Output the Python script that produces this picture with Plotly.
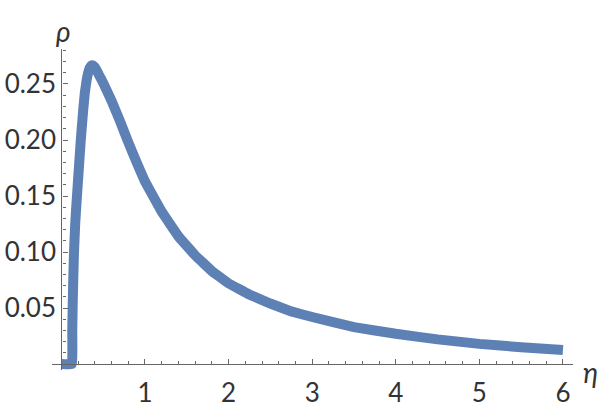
import plotly.graph_objects as go

# data
eta = [0.0, 0.127, 0.13, 0.135, 0.14, 0.15, 0.165, 0.18, 0.20, 0.23, 0.26, 0.28, 0.30, 0.32, 0.34,
       0.36, 0.38, 0.40, 0.42, 0.45, 0.50, 0.60, 0.70, 0.80, 0.90, 1.00, 1.20, 1.40, 1.60, 1.80, 2.00,
       2.25, 2.50, 2.75, 3.00, 3.50, 4.00, 4.50, 5.00, 5.50, 6.00]
rho = [0.0, 0.0, 0.03, 0.052, 0.07, 0.098, 0.125, 0.143, 0.165, 0.198, 0.226, 0.242, 0.2525, 0.2600, 0.2645,
       0.2665, 0.2665, 0.2650, 0.2625, 0.258, 0.251, 0.235, 0.217, 0.198, 0.180, 0.163, 0.136, 0.114, 0.097,
       0.083, 0.072, 0.062, 0.054, 0.047, 0.042, 0.033, 0.027, 0.022, 0.018, 0.015, 0.0125]

x_ticks = [1, 2, 3, 4, 5, 6]
x_labels = ["1", "2", "3", "4", "5", "6"]
y_ticks = [0.05, 0.10, 0.15, 0.20, 0.25]
y_labels = ["0.05", "0.10", "0.15", "0.20", "0.25"]

W, H = 600, 412
x_range = [-0.11, 6.12]
y_range = [-0.0055, 0.2815]
# pixel geometry
px_left, px_right = 52.2, 573.0
py_top, py_bottom = 48.7, 370.2

x_dom = [px_left / W, px_right / W]
y_dom = [(H - py_bottom) / H, (H - py_top) / H]
x0_px = px_left + (0 - x_range[0]) / (x_range[1] - x_range[0]) * (px_right - px_left)
y0_px = py_bottom - (0 - y_range[0]) / (y_range[1] - y_range[0]) * (py_bottom - py_top)

axis_color = "#666666"
font_family = "Lato, 'Noto Sans', sans-serif"

fig = go.Figure()
fig.add_trace(go.Scatter(
    x=eta, y=rho, mode="lines",
    line=dict(color="#5E81B5", width=10, shape="spline", smoothing=0.15),
    hoverinfo="skip", cliponaxis=False,
))

fig.update_layout(
    width=W, height=H,
    margin=dict(l=0, r=0, t=0, b=0),
    paper_bgcolor="white", plot_bgcolor="white",
    showlegend=False,
    font=dict(family=font_family, size=26, color="#333333"),
    xaxis=dict(
        domain=x_dom, range=x_range, anchor="free", position=(H - y0_px) / H,
        showgrid=False, zeroline=False, showline=True, linecolor=axis_color, linewidth=1.3,
        tickmode="array", tickvals=x_ticks, ticktext=x_labels,
        ticks="inside", ticklen=5, tickcolor=axis_color, tickwidth=1,
        tickfont=dict(size=26, color="#333333"), ticklabelstandoff=6,
        minor=dict(tickmode="linear", tick0=0, dtick=0.2, ticks="inside", ticklen=3,
                   tickcolor=axis_color, tickwidth=1, showgrid=False),
    ),
    yaxis=dict(
        domain=y_dom, range=y_range, anchor="free", position=x0_px / W,
        showgrid=False, zeroline=False, showline=True, linecolor=axis_color, linewidth=1.3,
        tickmode="array", tickvals=y_ticks, ticktext=y_labels,
        ticks="inside", ticklen=5, tickcolor=axis_color, tickwidth=1,
        tickfont=dict(size=26, color="#333333"), ticklabelstandoff=0,
        minor=dict(tickmode="linear", tick0=0, dtick=0.01, ticks="inside", ticklen=3,
                   tickcolor=axis_color, tickwidth=1, showgrid=False),
    ),
    annotations=[
        dict(text="<i>ρ</i>", xref="paper", yref="paper", x=63 / W, y=(H - 31) / H,
             showarrow=False, xanchor="center", yanchor="middle",
             font=dict(size=28, color="#333333", family=font_family)),
        dict(text="<i>η</i>", xref="paper", yref="paper", x=590 / W, y=(H - 372) / H,
             showarrow=False, xanchor="center", yanchor="middle",
             font=dict(size=28, color="#333333", family=font_family)),
    ],
)

fig.write_html("out.html", config={"displayModeBar": False},
               post_script="document.body.style.margin='0px';")
